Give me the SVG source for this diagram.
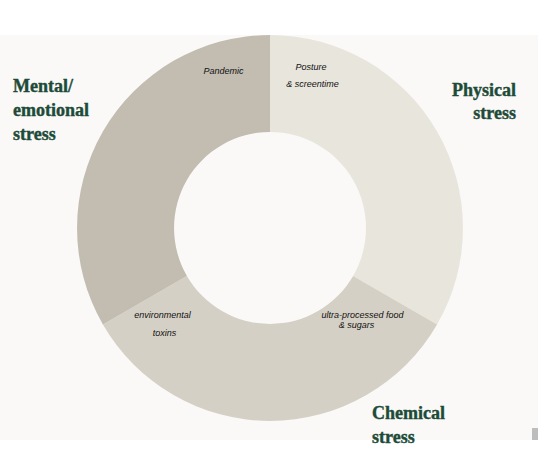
<svg xmlns="http://www.w3.org/2000/svg" width="549" height="465" viewBox="0 0 549 465">
<style>
.title{font-family:"Liberation Serif","DejaVu Serif",serif;font-weight:bold;font-size:18px;fill:#1e4a38;stroke:#1e4a38;stroke-width:0.4}
.note{font-family:"Liberation Sans","DejaVu Sans",sans-serif;font-style:italic;font-size:9px;fill:#111111;text-anchor:middle}
</style>
<rect x="0" y="0" width="549" height="465" fill="#ffffff"/>
<rect x="0" y="35" width="538" height="405" fill="#faf9f7"/>
<rect x="532" y="428" width="6" height="12" fill="#bdbdbd"/>
<g id="physical">
<path d="M270,35 A193,193 0 0 1 437.1,324.5 L353.1,276 A96,96 0 0 0 270,132 Z" fill="#e8e5dc"/>
<text class="note" x="311" y="70">Posture</text>
<text class="note" x="312.5" y="87">&amp; screentime</text>
<text class="title" x="516" y="96" text-anchor="end">Physical</text>
<text class="title" x="516" y="119" text-anchor="end">stress</text>
</g>
<g id="chemical">
<path d="M437.1,324.5 A193,193 0 0 1 102.9,324.5 L186.9,276 A96,96 0 0 0 353.1,276 Z" fill="#d5d0c5"/>
<text class="note" x="362.5" y="318">ultra-processed food</text>
<text class="note" x="356.5" y="328">&amp; sugars</text>
<text class="note" x="162.5" y="318">environmental</text>
<text class="note" x="164.5" y="336">toxins</text>
<text class="title" x="372" y="419">Chemical</text>
<text class="title" x="372" y="443">stress</text>
</g>
<g id="mental">
<path d="M102.9,324.5 A193,193 0 0 1 270,35 L270,132 A96,96 0 0 0 186.9,276 Z" fill="#c2bcb1"/>
<text class="note" x="223.5" y="74">Pandemic</text>
<text class="title" x="13" y="92">Mental/</text>
<text class="title" x="13" y="116">emotional</text>
<text class="title" x="13" y="140">stress</text>
</g>
</svg>
